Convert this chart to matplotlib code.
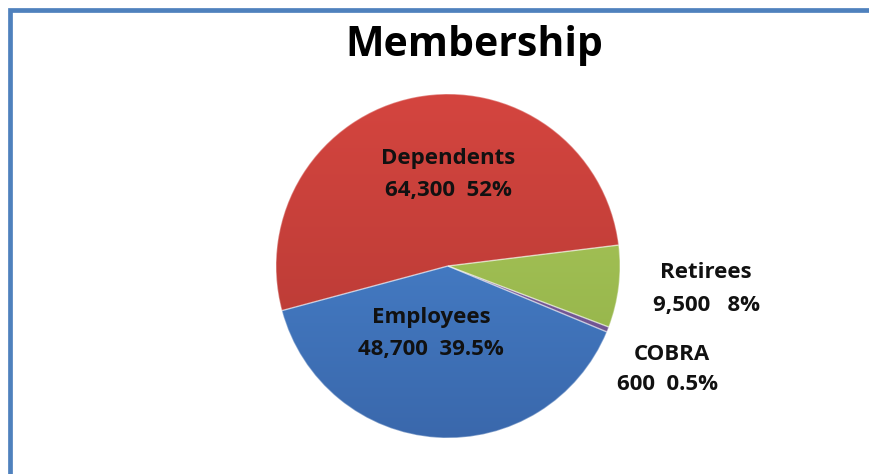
import matplotlib
matplotlib.use("Agg")
import matplotlib.pyplot as plt
import numpy as np
from matplotlib.patches import Rectangle
from matplotlib.colors import LinearSegmentedColormap

categories = ["Dependents", "Employees", "COBRA", "Retirees"]
values = [64300, 48700, 600, 9500]
value_labels = ["64,300", "48,700", "600", "9,500"]
pct_labels = ["52%", "39.5%", "0.5%", "8%"]
gaps = ["  ", "  ", "  ", "   "]
colors_top = ["#D4453F", "#4C8AD6", "#8064A2", "#ADCB5E"]
colors_bot = ["#B23833", "#3A68AC", "#6A4F8C", "#8FAE45"]

W, H = 870, 474
fig = plt.figure(figsize=(W / 100, H / 100), dpi=100)
fig.patch.set_facecolor("white")
ax = fig.add_axes([0, 0, 1, 1])
ax.axis("off")

# outer frame (right and bottom edges off-canvas)
fig.patches.append(Rectangle((10.5 / W, -0.1), 1.2, (H - 10) / H + 0.1,
                             transform=fig.transFigure, fill=False,
                             edgecolor="#4F81BD", linewidth=3.4))

cx, cy, r = 448, 208, 172
wedges, _ = ax.pie(values, startangle=7, counterclock=True, center=(cx, cy),
                   radius=r, colors=colors_top,
                   wedgeprops=dict(edgecolor="none", linewidth=0))
ax.set_xlim(0, W)
ax.set_ylim(0, H)
ax.set_aspect("auto")

for w, ct, cb in zip(wedges, colors_top, colors_bot):
    cmap = LinearSegmentedColormap.from_list("g", [cb, ct])
    grad = np.linspace(0, 1, 256).reshape(-1, 1)
    im = ax.imshow(grad, cmap=cmap, extent=(cx - r, cx + r, cy - r, cy + r),
                   origin="lower", aspect="auto", zorder=w.get_zorder() + 0.1)
    im.set_clip_path(w)
    w.set_facecolor("none")
    w.set_edgecolor((1, 1, 1, 0.35))
    w.set_linewidth(1.0)
    w.set_zorder(w.get_zorder() + 0.2)

fp = dict(fontsize=16, fontweight="bold", family=["Open Sans", "DejaVu Sans"],
          color="#111111", ha="center", va="center", zorder=10)
label_pos = [((448, 474 - 158), (448, 474 - 190)),
             ((431, 474 - 318), (431, 474 - 350)),
             ((672, 474 - 355), (668, 474 - 385)),
             ((706, 474 - 273), (707, 474 - 305))]
for name, vl, pl, g, (p1, p2) in zip(categories, value_labels, pct_labels, gaps, label_pos):
    ax.text(p1[0], p1[1], name, **fp)
    ax.text(p2[0], p2[1], vl + g + pl, **fp)

ax.text(474, 474 - 45, "Membership", fontsize=29.5, fontweight="bold",
        family=["Open Sans", "DejaVu Sans"], color="#000000",
        ha="center", va="center")

fig.savefig("out.png", dpi=100, facecolor="white")
